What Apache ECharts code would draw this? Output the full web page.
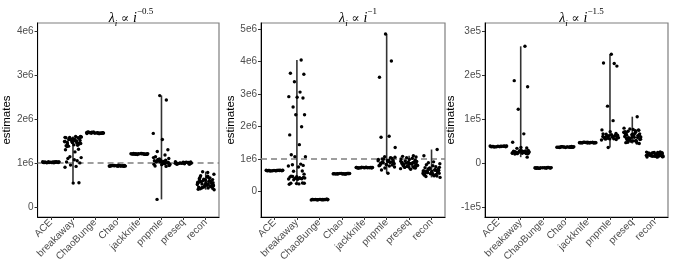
<!DOCTYPE html>
<html><head><meta charset="utf-8">
<script src="https://cdn.jsdelivr.net/npm/echarts@6/dist/echarts.min.js"></script>
<style>html,body{margin:0;padding:0;background:#fff}#c{width:673px;height:264px}</style>
</head><body><div id="c"></div>
<script>
const categories = ['ACE','breakaway','ChaoBunge','Chao','jackknife','pnpmle','preseq','recon'];
const titleExponents = ['\u22120.5','\u22121','\u22121.5'];
const truth = 1e6;

// panel 1: lambda_i ∝ i^-0.5
const p1_ACE = [1.005e6,1.012e6,1.020e6,1.008e6,1.015e6,1.025e6,1.010e6,1.018e6,1.003e6,1.022e6,1.013e6,1.007e6,1.017e6,1.028e6,1.011e6,1.019e6,1.006e6,1.024e6,1.014e6,1.009e6,1.021e6,1.016e6,1.012e6,1.026e6,1.004e6];
const p1_breakaway = [1.58e6,1.52e6,1.45e6,1.55e6,1.60e6,1.48e6,1.40e6,1.57e6,1.50e6,1.43e6,1.59e6,1.53e6,1.46e6,1.38e6,1.56e6,1.49e6,1.54e6,1.42e6,1.58e6,1.51e6,1.47e6,1.55e6,1.39e6,1.60e6,1.44e6,1.52e6,1.57e6,1.48e6,1.41e6,1.56e6,1.53e6,1.50e6,1.37e6,1.59e6,1.46e6,1.31e6,1.30e6,1.25e6,1.14e6,1.12e6,1.10e6,1.07e6,1.05e6,1.02e6,1.00e6,0.95e6,0.92e6,0.90e6,0.54e6,0.55e6];
const p1_ChaoBunge = [1.672e6,1.685e6,1.695e6,1.668e6,1.702e6,1.678e6,1.690e6,1.681e6,1.698e6,1.665e6,1.688e6,1.675e6,1.693e6,1.683e6,1.670e6,1.700e6,1.679e6,1.687e6,1.673e6,1.696e6,1.684e6,1.676e6,1.691e6,1.682e6,1.667e6];
const p1_Chao = [0.925e6,0.932e6,0.940e6,0.928e6,0.935e6,0.943e6,0.930e6,0.937e6,0.922e6,0.941e6,0.933e6,0.927e6,0.938e6,0.945e6,0.931e6,0.936e6,0.924e6,0.942e6,0.934e6,0.929e6,0.939e6,0.926e6];
const p1_jackknife = [1.195e6,1.202e6,1.210e6,1.198e6,1.205e6,1.213e6,1.200e6,1.207e6,1.192e6,1.211e6,1.203e6,1.197e6,1.208e6,1.215e6,1.201e6,1.206e6,1.194e6,1.212e6,1.204e6,1.199e6,1.209e6,1.196e6];
const p1_pnpmle = [2.53e6,2.43e6,1.67e6,1.53e6,1.30e6,1.26e6,1.18e6,1.14e6,1.10e6,1.05e6,1.00e6,0.97e6,1.03e6,1.08e6,0.95e6,1.02e6,0.99e6,1.06e6,0.93e6,1.01e6,1.04e6,0.98e6,1.12e6,0.96e6,1.00e6,1.07e6,0.94e6,1.02e6,0.92e6,1.05e6,0.99e6,1.03e6,0.97e6,1.09e6,1.01e6,0.17e6];
const p1_preseq = [0.975e6,0.990e6,1.010e6,0.985e6,1.000e6,1.020e6,0.980e6,1.005e6,0.970e6,1.015e6,0.995e6,0.988e6,1.008e6,1.025e6,0.978e6,1.002e6,0.992e6,1.012e6,0.983e6,0.998e6,1.018e6,0.972e6,1.006e6];
const p1_recon = [0.78e6,0.80e6,0.74e6,0.71e6,0.68e6,0.66e6,0.64e6,0.62e6,0.60e6,0.58e6,0.56e6,0.55e6,0.53e6,0.52e6,0.50e6,0.48e6,0.47e6,0.45e6,0.43e6,0.41e6,0.39e6,0.63e6,0.59e6,0.57e6,0.54e6,0.51e6,0.49e6,0.46e6,0.44e6,0.42e6,0.67e6,0.61e6,0.56e6,0.52e6,0.48e6,0.45e6,0.58e6,0.54e6,0.50e6,0.47e6,0.43e6,0.65e6,0.60e6,0.55e6,0.51e6,0.46e6,0.40e6,0.70e6];

// panel 2: lambda_i ∝ i^-1
const p2_ACE = [0.632e6,0.640e6,0.648e6,0.636e6,0.644e6,0.652e6,0.638e6,0.646e6,0.630e6,0.650e6,0.642e6,0.634e6,0.647e6,0.655e6,0.639e6,0.645e6,0.633e6,0.651e6,0.641e6,0.637e6];
const p2_breakaway = [4.05e6,3.64e6,3.61e6,3.38e6,3.06e6,2.92e6,2.90e6,2.88e6,2.60e6,2.36e6,2.36e6,1.99e6,1.74e6,1.44e6,1.13e6,1.07e6,1.07e6,0.84e6,0.82e6,0.80e6,0.78e6,0.75e6,0.63e6,0.62e6,0.53e6,0.47e6,0.45e6,0.44e6,0.42e6,0.41e6,0.40e6,0.39e6,0.38e6,0.37e6,0.43e6,0.46e6,0.40e6,0.25e6,0.25e6,0.24e6,0.26e6,0.22e6,0.23e6,0.36e6];
const p2_ChaoBunge = [-0.262e6,-0.255e6,-0.248e6,-0.258e6,-0.251e6,-0.244e6,-0.260e6,-0.253e6,-0.265e6,-0.246e6,-0.256e6,-0.250e6,-0.242e6,-0.259e6,-0.252e6,-0.247e6,-0.263e6,-0.254e6,-0.249e6,-0.257e6];
const p2_Chao = [0.535e6,0.542e6,0.550e6,0.538e6,0.546e6,0.554e6,0.540e6,0.548e6,0.532e6,0.552e6,0.544e6,0.537e6,0.549e6,0.556e6,0.541e6,0.547e6,0.534e6,0.553e6,0.543e6,0.539e6];
const p2_jackknife = [0.722e6,0.730e6,0.738e6,0.726e6,0.734e6,0.742e6,0.728e6,0.736e6,0.720e6,0.740e6,0.732e6,0.724e6,0.737e6,0.745e6,0.729e6,0.735e6,0.723e6,0.741e6,0.731e6,0.727e6];
const p2_pnpmle = [4.85e6,4.02e6,3.52e6,1.70e6,1.67e6,1.35e6,1.07e6,1.04e6,1.00e6,0.97e6,0.94e6,0.92e6,0.90e6,0.88e6,0.86e6,0.84e6,0.82e6,0.80e6,0.78e6,0.75e6,0.72e6,1.02e6,0.98e6,0.95e6,0.93e6,0.91e6,0.89e6,0.87e6,0.85e6,0.83e6,0.81e6,0.79e6,0.96e6,0.99e6,1.05e6,0.66e6,0.56e6];
const p2_preseq = [1.10e6,1.08e6,1.06e6,1.04e6,1.02e6,1.00e6,0.98e6,0.96e6,0.94e6,0.92e6,0.90e6,0.88e6,0.86e6,0.84e6,0.82e6,0.80e6,0.78e6,0.76e6,0.74e6,0.72e6,0.70e6,0.68e6,0.91e6,0.87e6,0.83e6,0.79e6,0.75e6,0.89e6,0.85e6,0.81e6,0.77e6,0.73e6,0.93e6,0.86e6,0.80e6,0.74e6,0.88e6,0.82e6,0.78e6,0.84e6];
const p2_recon = [1.29e6,1.10e6,0.91e6,0.88e6,0.85e6,0.82e6,0.79e6,0.76e6,0.73e6,0.70e6,0.68e6,0.66e6,0.64e6,0.62e6,0.60e6,0.58e6,0.56e6,0.54e6,0.52e6,0.50e6,0.48e6,0.46e6,0.43e6,0.71e6,0.67e6,0.63e6,0.59e6,0.55e6,0.51e6,0.47e6,0.69e6,0.65e6,0.61e6,0.57e6,0.53e6,0.49e6,0.74e6,0.72e6,0.64e6,0.60e6,0.56e6,0.62e6,0.58e6,0.66e6];

// panel 3: lambda_i ∝ i^-1.5
const p3_ACE = [37400,38200,39000,37800,38600,39400,38000,38800,37200,39200,38400,37600,38900,39600,38100,38700,37500,39300,38300,37900];
const p3_breakaway = [266000,188000,174000,123000,67000,48000,36000,35000,34000,29000,28500,28000,27500,27000,26500,26000,25500,25000,24500,24000,23500,23000,22500,22000,21500,21000,27800,26200,24800,23200,25800,24200,22800,28800,14000];
const p3_ChaoBunge = [-11200,-10500,-9800,-10900,-10200,-9500,-11000,-10300,-11400,-9700,-10600,-10000,-9300,-11100,-10400,-9900,-10800,-10100];
const p3_Chao = [36100,36800,37600,36400,37200,38000,36600,37400,35900,37800,37000,36300,37500,38200,36700,37300,36200,37900,36900,36500];
const p3_jackknife = [46200,46900,47700,46500,47300,48100,46700,47500,46000,47900,47100,46400,47600,48300,46800,47400,46300,48000,47000,46600];
const p3_pnpmle = [248000,227000,228000,221000,130000,97000,76000,72000,68000,66000,64000,63000,62000,61000,60000,59000,58000,57000,56000,55000,54000,53000,65000,63500,61500,59500,57500,55500,67000,60500,58500,36000];
const p3_preseq = [106000,80000,77000,75000,73000,71000,69000,67000,65000,63000,61000,59000,57000,55000,53000,51000,49000,47000,45000,78000,74000,70000,66000,62000,58000,54000,50000,46000,72000,68000,64000,60000,56000,52000,48000,76000,70500,64500,58500,52500,62500,56500,60000,66500];
const p3_recon = [14000,15000,16000,17000,18000,19000,20000,21000,22000,23000,24000,25000,26000,14500,15500,16500,17500,18500,19500,20500,21500,22500,23500,24500,25500,16200,18200,20200,22200,24200,17200,19200,21200,23200,15200];

// hand-picked horizontal jitter offsets (category units)
const jitter = [-0.31,0.12,0.35,-0.08,0.22,-0.37,0.04,0.29,-0.19,0.16,-0.27,0.33,-0.02,0.25,-0.34,0.09,-0.14,0.37,-0.23,0.06,0.19,-0.29,0.31,-0.11,0.14,-0.36,0.01,0.27,-0.17,0.34,-0.05,0.21,-0.32,0.11,-0.25,0.38,-0.09,0.17,-0.2,0.28,-0.38,0.07,0.24,-0.15,0.32,-0.26,-0.01];

const yTicks1 = [0,1e6,2e6,3e6,4e6];
const yTicks2 = [0,1e6,2e6,3e6,4e6,5e6];
const yTicks3 = [-1e5,0,1e5,2e5,3e5];

const panels = [
  {data:[p1_ACE,p1_breakaway,p1_ChaoBunge,p1_Chao,p1_jackknife,p1_pnpmle,p1_preseq,p1_recon], ticks:yTicks1, ymin:-0.23e6, ymax:4.18e6, left:33, width:186, hline:true},
  {data:[p2_ACE,p2_breakaway,p2_ChaoBunge,p2_Chao,p2_jackknife,p2_pnpmle,p2_preseq,p2_recon], ticks:yTicks2, ymin:-0.79e6, ymax:5.19e6, left:261, width:184, hline:true},
  {data:[p3_ACE,p3_breakaway,p3_ChaoBunge,p3_Chao,p3_jackknife,p3_pnpmle,p3_preseq,p3_recon], ticks:yTicks3, ymin:-1.22e5, ymax:3.19e5, left:485, width:183, hline:false}
];

function fmtY(v){
  if (v === 0) return '0';
  const e = Math.floor(Math.log10(Math.abs(v)) + 1e-9);
  const m = Math.round(v / Math.pow(10, e));
  return m + 'e' + e;
}

const grids=[], xAxes=[], yAxes=[], series=[], titles=[];
const labelFont = 'Liberation Sans';
panels.forEach((p, gi) => {
  grids.push({left:p.left, top:23, width:p.width, height:194, show:true, borderColor:'#7f7f7f', borderWidth:1.2, backgroundColor:'#fff'});
  xAxes.push({type:'value', gridIndex:gi, min:-0.6, max:7.6,
    axisLine:{show:true, onZero:false, lineStyle:{color:'#000', width:1}},
    axisTick:{show:true, customValues:[0,1,2,3,4,5,6,7], length:3, lineStyle:{color:'#333'}},
    axisLabel:{show:true, customValues:[0,1,2,3,4,5,6,7], rotate:45, margin:4, fontSize:10, color:'#4d4d4d', fontFamily:labelFont,
      formatter: v => categories[Math.round(v)]},
    splitLine:{show:false}});
  yAxes.push({type:'value', gridIndex:gi, min:p.ymin, max:p.ymax,
    name:'estimates', nameLocation:'middle', nameGap: 22, nameRotate:90,
    nameTextStyle:{fontSize:11.5, color:'#000', fontFamily:labelFont},
    axisLine:{show:true, onZero:false, lineStyle:{color:'#000', width:1}},
    axisTick:{show:true, customValues:p.ticks, length:3, lineStyle:{color:'#333'}},
    axisLabel:{show:true, customValues:p.ticks, margin:4, fontSize:10, color:'#4d4d4d', fontFamily:labelFont, formatter:fmtY},
    splitLine:{show:false}});
  // range lines
  const ranges = p.data.map((arr, i) => [i, Math.min(...arr), Math.max(...arr)]);
  series.push({type:'custom', xAxisIndex:gi, yAxisIndex:gi, z:2, data:ranges,
    renderItem:(params, api) => {
      const a = api.coord([api.value(0), api.value(1)]);
      const b = api.coord([api.value(0), api.value(2)]);
      return {type:'line', shape:{x1:a[0], y1:a[1], x2:b[0], y2:b[1]}, style:{stroke:'#333', lineWidth:1.6}};
    }});
  // points
  const pts = [];
  let k = 0;
  p.data.forEach((arr, i) => arr.forEach(v => { pts.push([i + jitter[k % jitter.length], v]); k++; }));
  const s = {type:'scatter', xAxisIndex:gi, yAxisIndex:gi, z:3, data:pts, symbolSize:3.4,
    itemStyle:{color:'#000', opacity:1}, silent:true};
  if (p.hline) {
    s.markLine = {silent:true, symbol:'none', label:{show:false}, z:1,
      lineStyle:{color:'#7f7f7f', type:[6,4], width:1.6},
      data:[{yAxis:truth}]};
  }
  series.push(s);
  titles.push({text:'{it|\u03bb}{sub|i}{op| \u221d }{it|i}{sup|' + titleExponents[gi] + '}',
    left: p.left + p.width/2, top: 2, textAlign:'center',
    textStyle:{fontWeight:'normal', rich:{
      it:{fontFamily:'Liberation Serif', fontStyle:'italic', fontWeight:'normal', fontSize:14, color:'#000', lineHeight:18, verticalAlign:'bottom'},
      op:{fontFamily:'DejaVu Serif', fontWeight:'normal', fontSize:12, color:'#000', lineHeight:18, verticalAlign:'bottom'},
      sub:{fontFamily:'Liberation Serif', fontStyle:'italic', fontWeight:'normal', fontSize:9, color:'#000', lineHeight:18, verticalAlign:'bottom', padding:[0,0,-3,0]},
      sup:{fontFamily:'Liberation Serif', fontWeight:'normal', fontSize:9, color:'#000', lineHeight:18, verticalAlign:'top'}
    }}});
});

const chart = echarts.init(document.getElementById('c'), null, {renderer:'canvas'});
chart.setOption({animation:false, backgroundColor:'#fff', title:titles, grid:grids, xAxis:xAxes, yAxis:yAxes, series:series});
</script></body></html>
